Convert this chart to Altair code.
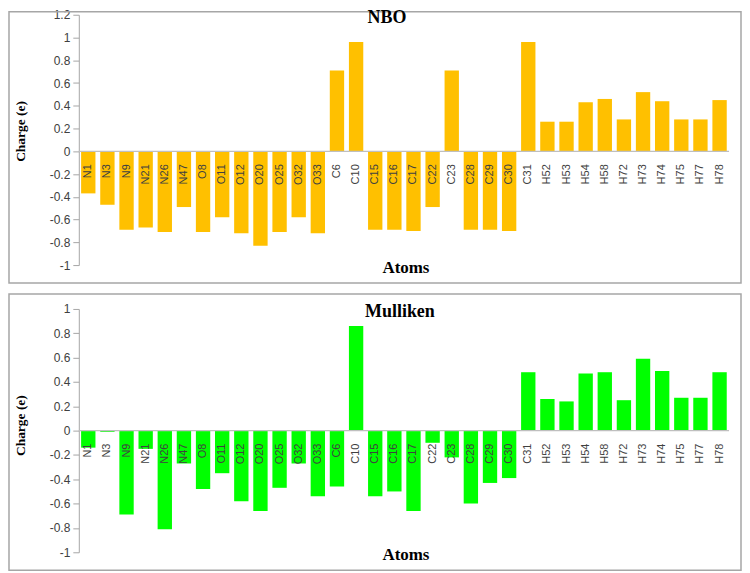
import altair as alt
import pandas as pd

atoms = ["N1", "N3", "N9", "N21", "N26", "N47", "O8", "O11", "O12", "O20", "O25", "O32", "O33",
         "C6", "C10", "C15", "C16", "C17", "C22", "C23", "C28", "C29", "C30", "C31",
         "H52", "H53", "H54", "H58", "H72", "H73", "H74", "H75", "H77", "H78"]
nbo = [-0.37, -0.47, -0.69, -0.67, -0.71, -0.49, -0.71, -0.58, -0.72, -0.83, -0.71, -0.58, -0.72,
       0.71, 0.96, -0.69, -0.69, -0.70, -0.49, 0.71, -0.69, -0.69, -0.70, 0.96,
       0.26, 0.26, 0.43, 0.46, 0.28, 0.52, 0.44, 0.28, 0.28, 0.45]
mulliken = [-0.14, -0.01, -0.69, -0.15, -0.81, -0.27, -0.48, -0.35, -0.58, -0.66, -0.47, -0.27, -0.54,
            -0.46, 0.86, -0.54, -0.50, -0.66, -0.10, -0.22, -0.60, -0.43, -0.39, 0.48,
            0.26, 0.24, 0.47, 0.48, 0.25, 0.59, 0.49, 0.27, 0.27, 0.48]
ticks_nbo = [-1, -0.8, -0.6, -0.4, -0.2, 0, 0.2, 0.4, 0.6, 0.8, 1, 1.2]
ticks_mul = [-1, -0.8, -0.6, -0.4, -0.2, 0, 0.2, 0.4, 0.6, 0.8, 1]

W = 652
SERIF = "Liberation Serif"
SANS = "Liberation Sans"
GRAY = "#A6A6A6"
LABEL = "#404040"


def panel(values, ticks, color, title, H, top_pad, title_x):
    df = pd.DataFrame({"atom": atoms, "charge": values})
    one = pd.DataFrame({"a": [0]})
    xenc = alt.X("atom:N", sort=atoms, axis=None,
                 scale=alt.Scale(paddingInner=0.25, paddingOuter=0.12))
    yscale = alt.Scale(domain=[ticks[0], ticks[-1]], nice=False)
    yaxis = alt.Axis(values=ticks, labelExpr="toString(datum.value)", title=None,
                     grid=False, domainColor=GRAY, tickColor=GRAY, tickSize=6,
                     labelFont=SANS, labelFontSize=12, labelColor=LABEL,
                     labelPadding=3, labelOverlap=False, labelBound=False,
                     labelFlush=False)
    border = alt.Chart(one).mark_rect(filled=False, stroke=GRAY, strokeWidth=1.5).encode(
        x=alt.value(-70), x2=alt.value(W + 12),
        y=alt.value(-top_pad), y2=alt.value(H + 18))
    bars = alt.Chart(df).mark_bar(color=color).encode(
        x=xenc, y=alt.Y("charge:Q", scale=yscale, axis=yaxis))
    zero = alt.Chart(one).mark_rule(color="#BFBFBF", strokeWidth=1.2).encode(
        y=alt.YDatum(0, axis=yaxis, scale=yscale))
    labels = alt.Chart(df).mark_text(angle=270, align="right", baseline="middle", dx=-13,
                                     font=SANS, fontSize=11, color=LABEL).encode(
        x=xenc, y=alt.YDatum(0, axis=yaxis, scale=yscale), text="atom:N")
    t = alt.Chart(one).mark_text(font=SERIF, fontWeight="bold", fontSize=18,
                                 baseline="middle", align="center").encode(
        x=alt.value(title_x), y=alt.value(3), text=alt.value(title))
    xt = alt.Chart(one).mark_text(font=SERIF, fontWeight="bold", fontSize=17,
                                  baseline="middle", align="center").encode(
        x=alt.value(328), y=alt.value(H + 3), text=alt.value("Atoms"))
    yt = alt.Chart(one).mark_text(font=SERIF, fontWeight="bold", fontSize=13.5, angle=270,
                                  baseline="middle", align="center").encode(
        x=alt.value(-58), y=alt.value(117), text=alt.value("Charge (e)"))
    return alt.layer(border, bars, zero, labels, t, xt, yt).properties(width=W, height=H)


top = panel(nbo, ticks_nbo, "#FFC000", "NBO", 251, 3, 309)
bottom = panel(mulliken, ticks_mul, "#00FF00", "Mulliken", 244, 15, 322)

chart = (alt.vconcat(top, bottom, spacing=9)
         .properties(padding=0)
         .configure_view(stroke=None))

chart.save("out.html", embed_options={"renderer": "svg", "actions": False})
